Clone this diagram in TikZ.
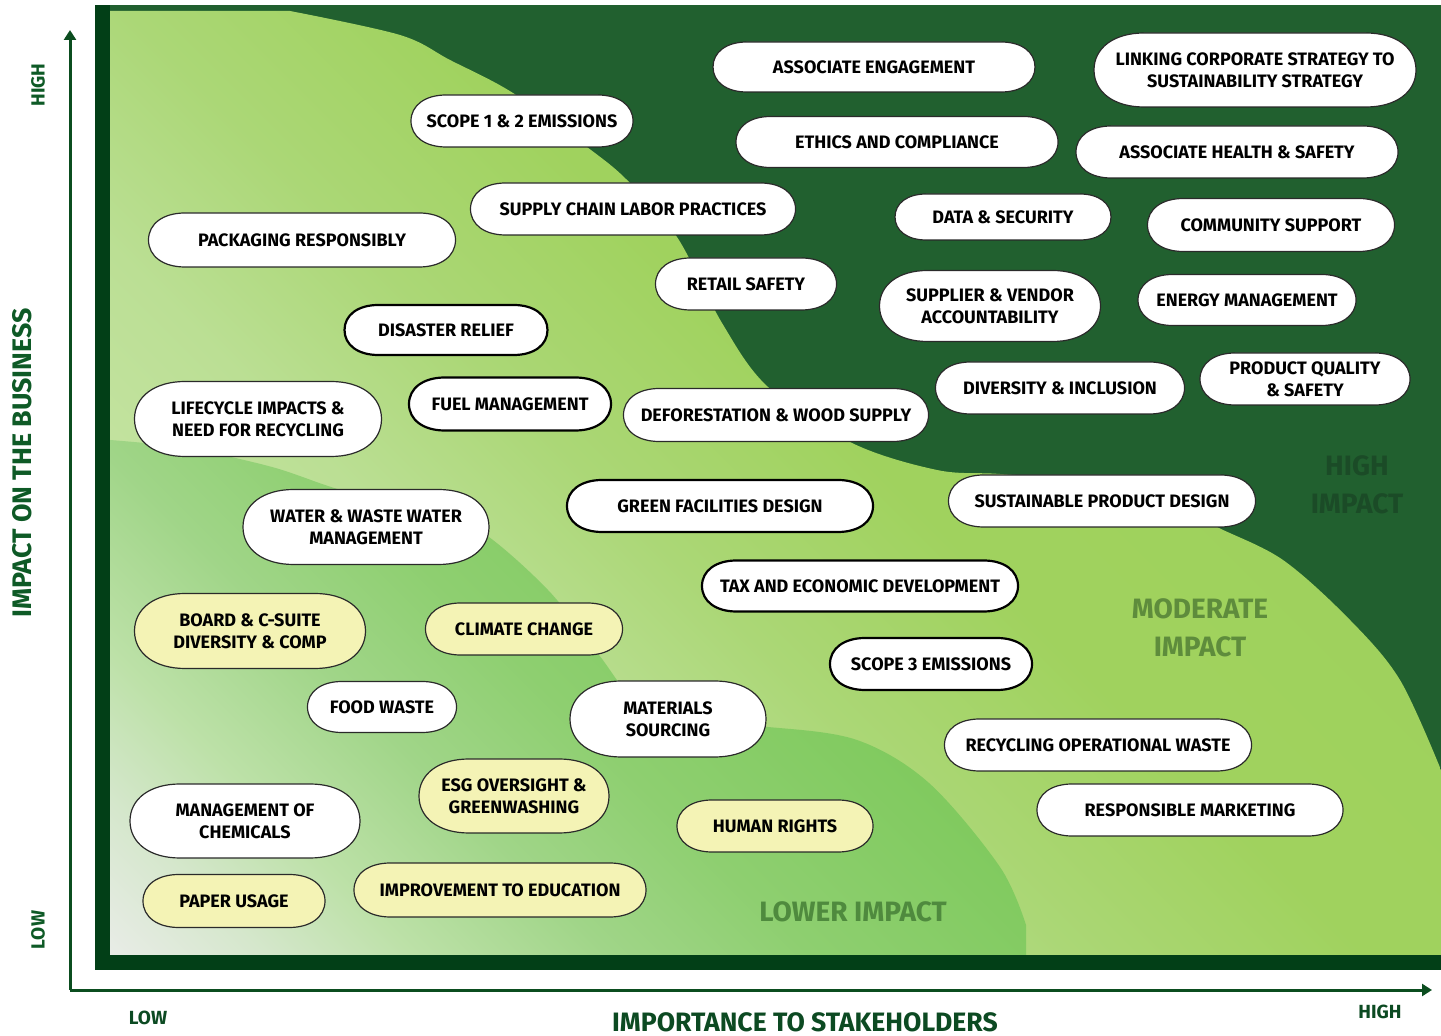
\documentclass[tikz,border=0pt]{standalone}
\usepackage{fontspec}
\setmainfont{Fira Sans}
\usetikzlibrary{arrows.meta}
\definecolor{darkreg}{HTML}{21602F}
\definecolor{frameband}{HTML}{023F17}
\definecolor{mgA}{HTML}{C6E4A4}
\definecolor{mgB}{HTML}{BBDF94}
\definecolor{mgC}{HTML}{ABD776}
\definecolor{mgD}{HTML}{A0D25E}
\definecolor{mgE}{HTML}{9DD05A}
\definecolor{lgA}{HTML}{E8ECE6}
\definecolor{lgB}{HTML}{D5E7CC}
\definecolor{lgC}{HTML}{BDE1A8}
\definecolor{lgD}{HTML}{A0D588}
\definecolor{lgE}{HTML}{8ECF70}
\definecolor{lgF}{HTML}{80CA5E}
\definecolor{lgG}{HTML}{7AC757}
\definecolor{ovline}{HTML}{2A2A2A}
\definecolor{ovyellow}{HTML}{F4F3B5}
\definecolor{axisgreen}{HTML}{0B4D1F}
\definecolor{titlegreen}{HTML}{0E5A26}
\definecolor{bottomgreen}{HTML}{0C4A22}
\definecolor{highlab}{HTML}{1B4B27}
\definecolor{modlab}{HTML}{5E8C3C}
\definecolor{lowlab}{HTML}{4F8A3E}
\pgfdeclareverticalshading{modgrad}{100bp}{color(0bp)=(mgA); color(20.8bp)=(mgA); color(25.4bp)=(mgB); color(29.3bp)=(mgC); color(33.9bp)=(mgD); color(50bp)=(mgE); color(100bp)=(mgE)}
\pgfdeclareverticalshading{lowgrad}{100bp}{color(0bp)=(lgA); color(14.6bp)=(lgA); color(19.9bp)=(lgB); color(25.2bp)=(lgC); color(32.3bp)=(lgD); color(39.4bp)=(lgE); color(50bp)=(lgF); color(65bp)=(lgG); color(100bp)=(lgG)}
\newdimen\pilxa \newdimen\pilxb \newdimen\pilya \newdimen\pilyb
\newdimen\pilb \newdimen\pilrx \newdimen\pilym
\makeatletter
\pgfdeclareshape{pillshape}{%
  \inheritsavedanchors[from=rectangle]%
  \inheritanchorborder[from=rectangle]%
  \inheritanchor[from=rectangle]{center}%
  \inheritanchor[from=rectangle]{north}%
  \inheritanchor[from=rectangle]{south}%
  \inheritanchor[from=rectangle]{east}%
  \inheritanchor[from=rectangle]{west}%
  \inheritanchor[from=rectangle]{north east}%
  \inheritanchor[from=rectangle]{north west}%
  \inheritanchor[from=rectangle]{south east}%
  \inheritanchor[from=rectangle]{south west}%
  \inheritanchor[from=rectangle]{base}%
  \inheritanchor[from=rectangle]{mid}%
  \backgroundpath{%
    \southwest \pilxa=\pgf@x \pilya=\pgf@y
    \northeast \pilxb=\pgf@x \pilyb=\pgf@y
    \pilb=\pilyb \advance\pilb by -\pilya \pilb=.5\pilb
    \pilrx=1.35\pilb
    \pilym=\pilya \advance\pilym by \pilb
    \pgfpathmoveto{\pgfpoint{\pilxa}{\pilym}}%
    \pgfpathcurveto{\pgfpoint{\pilxa}{\pilym+0.6*\pilb}}{\pgfpoint{\pilxa+0.4*\pilrx}{\pilyb}}{\pgfpoint{\pilxa+\pilrx}{\pilyb}}%
    \pgfpathlineto{\pgfpoint{\pilxb-\pilrx}{\pilyb}}%
    \pgfpathcurveto{\pgfpoint{\pilxb-0.4*\pilrx}{\pilyb}}{\pgfpoint{\pilxb}{\pilym+0.6*\pilb}}{\pgfpoint{\pilxb}{\pilym}}%
    \pgfpathcurveto{\pgfpoint{\pilxb}{\pilym-0.6*\pilb}}{\pgfpoint{\pilxb-0.4*\pilrx}{\pilya}}{\pgfpoint{\pilxb-\pilrx}{\pilya}}%
    \pgfpathlineto{\pgfpoint{\pilxa+\pilrx}{\pilya}}%
    \pgfpathcurveto{\pgfpoint{\pilxa+0.4*\pilrx}{\pilya}}{\pgfpoint{\pilxa}{\pilym-0.6*\pilb}}{\pgfpoint{\pilxa}{\pilym}}%
    \pgfpathclose
  }%
}
\makeatother
\newcommand\ovfont{\fontsize{9}{11}\selectfont\bfseries}
\newcommand\regfont{\fontsize{14}{19}\selectfont\bfseries}
\newcommand\axfont{\fontsize{9.5}{11}\selectfont\bfseries}
\newcommand\ytitlefont{\fontsize{13.4}{15}\selectfont\bfseries}
\newcommand\xtitlefont{\fontsize{13.3}{15}\selectfont\bfseries}
\newcommand\modpath{(110,11) -- plot[smooth, tension=0.55] coordinates {(290,11) (400,35) (450,60) (513,93) (587,147) (627,180) (677,237) (722,323) (768,387) (852,443) (937,470) (1000,474) (1100,482) (1170,502) (1217,527) (1283,560) (1350,620) (1400,680) (1441,770)} -- (1441,955) -- (110,955) -- cycle}
\newcommand\lowpath{(110,440) -- plot[smooth, tension=0.55] coordinates {(110,440) (186,448) (272,467) (341,490) (420,508) (479,530) (548,590) (599,655) (635,700) (690,724) (768,727) (857,740) (929,783) (1000,867) (1026,925)} -- (1026,955) -- (110,955) -- cycle}
\tikzset{
  oval/.style={shape=pillshape, draw=ovline, line width=0.6pt, fill=white,
    inner sep=0pt, outer sep=0pt, align=center, font=\ovfont, text=black},
  heavyedge/.style={draw=black, line width=1.1pt},
  yel/.style={fill=ovyellow},
  sz/.style 2 args={minimum width=#1*0.5pt, minimum height=#2*0.5pt},
  axisline/.style={draw=axisgreen, line width=1.5pt, -{Triangle[length=5pt,width=6pt]}},
  reglab/.style={font=\regfont, align=center},
  axlab/.style={font=\axfont}
}
\begin{document}
\begin{tikzpicture}[x=0.5pt,y=-0.5pt]
\useasboundingbox (0,0) rectangle (1441,1036);
\fill[white] (0,0) rectangle (1441,1036);
% background (high impact zone)
\fill[darkreg] (95,5) rectangle (1441,970);
% moderate zone
\begin{scope}
  \clip \modpath;
  \shade[shading=modgrad, shading angle=-45] (110,955) rectangle (2410,-1345);
\end{scope}
% lower zone
\begin{scope}
  \clip \lowpath;
  \shade[shading=lowgrad, shading angle=-45] (110,955) rectangle (1110,-45);
\end{scope}
% frame bands
\fill[frameband] (95,5) rectangle (110,970);
\fill[frameband] (95,955) rectangle (1441,970);
% axes
\coordinate (O) at (70,990);
\coordinate (ytop) at (70,30);
\coordinate (xend) at (1432,990);
\draw[axisline] (O) -- (ytop);
\draw[axisline] (O) -- (xend);
% axis labels
\node[font=\ytitlefont, text=titlegreen, rotate=90] (ytitle) at (22,463) {IMPACT ON THE BUSINESS};
\node[axlab, text=titlegreen, rotate=90] (yhigh) at (38,85) {HIGH};
\node[axlab, text=titlegreen, rotate=90] (ylow) at (38,930) {LOW};
\node[axlab, text=bottomgreen] (xlow) at (148,1018) {LOW};
\node[axlab, text=bottomgreen] (xhigh) at (1380,1012) {HIGH};
\node[font=\xtitlefont, text=bottomgreen, anchor=base, inner sep=0pt] (xtitle) at (805,1031) {IMPORTANCE TO STAKEHOLDERS};
% zone labels
\node[reglab, text=highlab] (zhigh) at (1357,485) {HIGH\\IMPACT};
\node[reglab, text=modlab] (zmod) at (1200,628) {MODERATE\\IMPACT};
\node[reglab, text=lowlab] (zlow) at (853,912) {LOWER IMPACT};
% topics
\node[oval, sz={322}{50}] (ae) at (874,67) {ASSOCIATE ENGAGEMENT};
\node[oval, sz={322}{74}] (lcs) at (1255,70) {LINKING CORPORATE STRATEGY TO\\SUSTAINABILITY STRATEGY};
\node[oval, sz={222}{52}] (s12) at (522,121) {SCOPE 1 \& 2 EMISSIONS};
\node[oval, sz={322}{51}] (eac) at (897,142) {ETHICS AND COMPLIANCE};
\node[oval, sz={322}{52}] (ahs) at (1237,152) {ASSOCIATE HEALTH \& SAFETY};
\node[oval, sz={325}{52}] (scl) at (633,209) {SUPPLY CHAIN LABOR PRACTICES};
\node[oval, sz={307}{54}] (pr) at (302,240) {PACKAGING RESPONSIBLY};
\node[oval, sz={216}{46}] (ds) at (1003,217) {DATA \& SECURITY};
\node[oval, sz={247}{53}] (cs) at (1271,225) {COMMUNITY SUPPORT};
\node[oval, sz={181}{52}] (rs) at (746,284) {RETAIL SAFETY};
\node[oval, sz={221}{71}] (sva) at (990,306) {SUPPLIER \& VENDOR\\ACCOUNTABILITY};
\node[oval, sz={218}{51}] (em) at (1247,300) {ENERGY MANAGEMENT};
\node[oval, heavyedge, sz={203}{50}] (dr) at (446,330) {DISASTER RELIEF};
\node[oval, sz={247}{75}] (lic) at (258,419) {LIFECYCLE IMPACTS \&\\NEED FOR RECYCLING};
\node[oval, heavyedge, sz={202}{53}] (fm) at (510,404) {FUEL MANAGEMENT};
\node[oval, sz={305}{53}] (dws) at (776,415) {DEFORESTATION \& WOOD SUPPLY};
\node[oval, sz={249}{52}] (di) at (1060,388) {DIVERSITY \& INCLUSION};
\node[oval, sz={210}{52}] (pqs) at (1305,379) {PRODUCT QUALITY\\\& SAFETY};
\node[oval, heavyedge, sz={306}{52}] (gfd) at (720,506) {GREEN FACILITIES DESIGN};
\node[oval, sz={307}{52}] (spd) at (1102,501) {SUSTAINABLE PRODUCT DESIGN};
\node[oval, sz={246}{75}] (www) at (366,527) {WATER \& WASTE WATER\\MANAGEMENT};
\node[oval, heavyedge, sz={316}{51}] (ted) at (860,586) {TAX AND ECONOMIC DEVELOPMENT};
\node[oval, heavyedge, sz={202}{52}] (s3) at (931,664) {SCOPE 3 EMISSIONS};
\node[oval, sz={196}{76}] (ms) at (668,719) {MATERIALS\\SOURCING};
\node[oval, sz={149}{51}] (fw) at (382,707) {FOOD WASTE};
\node[oval, sz={307}{52}] (row) at (1098,745) {RECYCLING OPERATIONAL WASTE};
\node[oval, sz={306}{52}] (rm) at (1190,810) {RESPONSIBLE MARKETING};
\node[oval, sz={230}{74}] (moc) at (245,821) {MANAGEMENT OF\\CHEMICALS};
\node[oval, yel, sz={231}{75}] (bcs) at (250,631) {BOARD \& C-SUITE\\DIVERSITY \& COMP};
\node[oval, yel, sz={197}{52}] (cc) at (524,629) {CLIMATE CHANGE};
\node[oval, yel, sz={190}{74}] (esg) at (514,796) {ESG OVERSIGHT \&\\GREENWASHING};
\node[oval, yel, sz={196}{52}] (hr) at (775,826) {HUMAN RIGHTS};
\node[oval, yel, sz={182}{53}] (pu) at (234,901) {PAPER USAGE};
\node[oval, yel, sz={292}{54}] (ite) at (500,890) {IMPROVEMENT TO EDUCATION};
\end{tikzpicture}
\end{document}
